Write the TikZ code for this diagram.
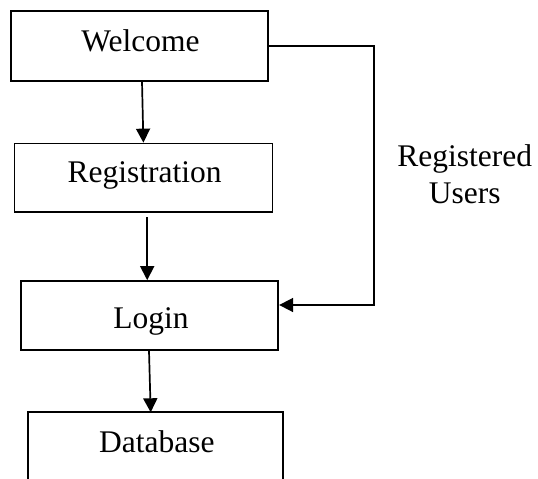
\documentclass[tikz,border=0pt]{standalone}
\usepackage{fontspec}
\setmainfont{Liberation Serif}
\usetikzlibrary{arrows.meta}
\begin{document}
\begin{tikzpicture}[x=1pt,y=-1pt,
  box/.style={draw, line width=1.7pt, minimum height=69pt, inner sep=0pt},
  txt/.style={anchor=base, inner sep=0pt, font=\fontsize{31.5}{36}\selectfont},
  conn/.style={line width=1.7pt, -{Triangle[length=14pt,width=14pt]}},
  plain/.style={line width=1.7pt}]
\useasboundingbox (0,0) rectangle (538,479);
\node[box, minimum width=257.3pt, minimum height=69.7pt] (w) at (139.65,45.85) {};
\node[box, minimum width=258pt, minimum height=68.5pt] (r) at (143.5,177.75) {};
\node[box, minimum width=257.3pt] (l) at (149.65,315.5) {};
\node[minimum width=254.5pt, minimum height=68pt, inner sep=0pt, anchor=north] (d) at (155.75,412.3) {};
\draw[plain] (d.south west) -- (d.north west) -- (d.north east) -- (d.south east);
\node[txt] (wt) at (140.5,51.5) {Welcome};
\node[txt] (rt) at (144.5,182) {Registration};
\node[txt] (lt) at (151,328) {Login};
\node[txt] (dt) at (156.9,452) {Database};
\node[txt] (ru) at (464.7,166) {Registered};
\node[txt] (us) at (464.7,203) {Users};
\coordinate (c2) at (374.3,305);
\draw[conn] ([xshift=2.35pt]w.south) -- ([xshift=-0.1pt]r.north);
\draw[conn] ([xshift=3.7pt,yshift=-4.5pt]r.south) -- ([xshift=-2.45pt]l.north);
\draw[conn] ([xshift=-0.65pt]l.south) -- ([xshift=-5.05pt]d.north);
\draw[conn] (w.east) -| (c2) -- (c2 -| l.east);
\end{tikzpicture}
\end{document}
